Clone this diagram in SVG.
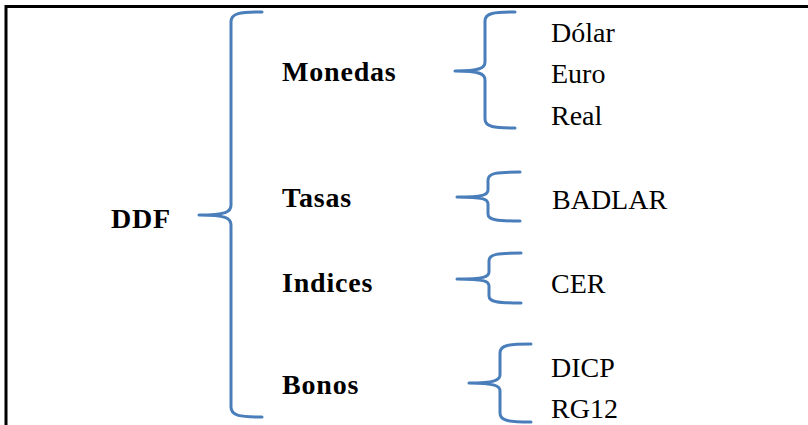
<svg xmlns="http://www.w3.org/2000/svg" width="808" height="425" viewBox="0 0 808 425">
<style>
.frame{stroke:#000;stroke-width:3;fill:none}
.brace{stroke:#4a7ebb;stroke-width:3;fill:none;stroke-linecap:round;stroke-linejoin:round}
</style>
<rect width="808" height="425" fill="#fff"/>
<g id="frame">
<path class="frame" d="M6,425 L6,6.5 L808,6.5"/>
</g>
<g id="connectors">
<path class="brace" d="M262,12 C240,12 231,13 231,22 L231,205 C231,212 226,215 199,215 C226,215 231,218 231,225 L231,407 C231,416 240,417 262,417"/>
<path class="brace" d="M515,12 C494,12 485,13 485,21 L485,62 C485,68 480,71 455,71 C480,71 485,74 485,80 L485,119 C485,127 494,128 515,128"/>
<path class="brace" d="M520,172 C497,172 488,173 488,180 L488,190 C488,195 483,197 457,197 C483,197 488,199 488,204 L488,214 C488,220 497,221 520,221"/>
<path class="brace" d="M521,253 C498,253 489,254 489,261 L489,272 C489,277 484,279 457,279 C484,279 489,281 489,286 L489,296 C489,302 498,303 521,303"/>
<path class="brace" d="M531,344 C509,344 500,345 500,353 L500,375 C500,380 495,383 469,383 C495,383 500,386 500,391 L500,413 C500,421 509,422 531,422"/>
</g>
<g font-family="Liberation Serif, DejaVu Serif, serif" font-weight="bold" font-size="28" fill="#000" letter-spacing="0.8">
<g id="ddf"><text x="111" y="228">DDF</text></g>
<g id="monedas"><text x="282" y="81">Monedas</text></g>
<g id="tasas"><text x="282" y="207">Tasas</text></g>
<g id="indices"><text x="282" y="292">Indices</text></g>
<g id="bonos"><text x="282" y="394">Bonos</text></g>
</g>
<g font-family="Liberation Serif, DejaVu Serif, serif" font-size="28" fill="#000">
<g id="dolar"><text x="551" y="42">Dólar</text></g>
<g id="euro"><text x="551" y="83">Euro</text></g>
<g id="real"><text x="551" y="125">Real</text></g>
<g id="badlar"><text x="552" y="209">BADLAR</text></g>
<g id="cer"><text x="551" y="293">CER</text></g>
<g id="dicp"><text x="551" y="377">DICP</text></g>
<g id="rg12"><text x="551" y="418">RG12</text></g>
</g>
</svg>
